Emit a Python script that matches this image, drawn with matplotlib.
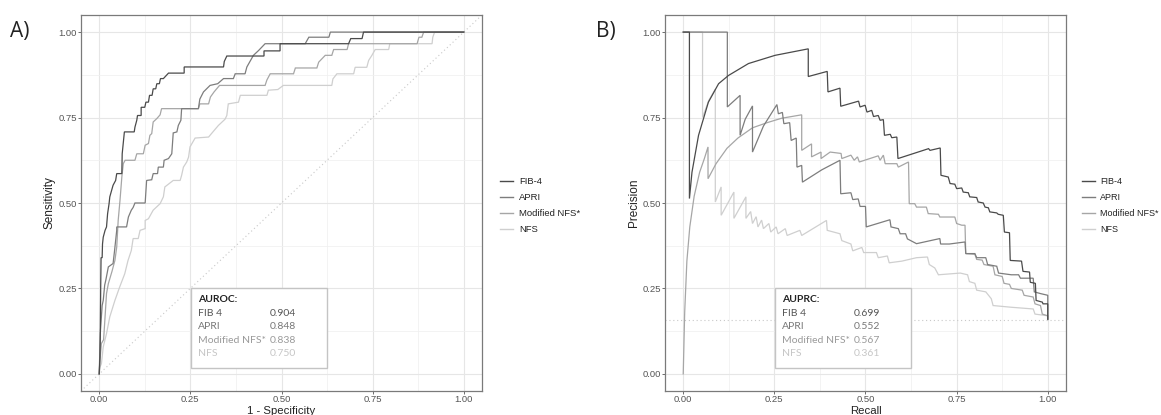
import matplotlib
matplotlib.use("Agg")
import matplotlib.pyplot as plt
from matplotlib.lines import Line2D
from matplotlib.patches import Rectangle

# ---------------- data ----------------
series_names = ["FIB-4", "APRI", "Modified NFS*", "NFS"]
box_names = ["FIB 4", "APRI", "Modified NFS*", "NFS"]
auroc = ["0.904", "0.848", "0.838", "0.750"]
auprc = ["0.699", "0.552", "0.567", "0.361"]
prevalence = 0.157

# ROC curves: (1 - specificity, sensitivity)
roc_fib4 = [(0, 0), (0.002, 0.05), (0.003, 0.12), (0.004, 0.25), (0.005, 0.34), (0.008, 0.34),
            (0.009, 0.38), (0.011, 0.40), (0.016, 0.42), (0.02, 0.43), (0.023, 0.469), (0.027, 0.498),
            (0.029, 0.518), (0.034, 0.537), (0.038, 0.552), (0.045, 0.566), (0.048, 0.586), (0.062, 0.586),
            (0.063, 0.644), (0.069, 0.708), (0.096, 0.708), (0.098, 0.722), (0.103, 0.742), (0.105, 0.756),
            (0.115, 0.756), (0.115, 0.78), (0.125, 0.78), (0.128, 0.795), (0.135, 0.795), (0.138, 0.815),
            (0.145, 0.815), (0.148, 0.834), (0.155, 0.834), (0.158, 0.849), (0.165, 0.849), (0.168, 0.864),
            (0.176, 0.864), (0.19, 0.88), (0.233, 0.88), (0.233, 0.898), (0.341, 0.898), (0.343, 0.914),
            (0.35, 0.93), (0.452, 0.93), (0.452, 0.945), (0.496, 0.945), (0.496, 0.966), (0.684, 0.966),
            (0.69, 0.981), (0.721, 0.981), (0.725, 1.0), (1.0, 1.0)]
roc_apri = [(0, 0), (0.003, 0.12), (0.008, 0.2), (0.011, 0.215), (0.015, 0.26), (0.018, 0.274),
            (0.025, 0.313), (0.038, 0.323), (0.042, 0.36), (0.048, 0.42), (0.048, 0.43), (0.075, 0.43),
            (0.080, 0.459), (0.088, 0.479), (0.093, 0.487), (0.098, 0.50), (0.126, 0.50), (0.130, 0.566),
            (0.144, 0.568), (0.148, 0.586), (0.160, 0.586), (0.162, 0.605), (0.176, 0.605), (0.178, 0.625),
            (0.190, 0.63), (0.199, 0.644), (0.203, 0.705), (0.213, 0.708), (0.217, 0.727), (0.224, 0.742),
            (0.226, 0.776), (0.272, 0.776), (0.276, 0.804), (0.286, 0.825), (0.304, 0.844), (0.325, 0.849),
            (0.341, 0.864), (0.368, 0.864), (0.373, 0.878), (0.40, 0.878), (0.405, 0.898), (0.423, 0.932),
            (0.437, 0.946), (0.455, 0.966), (0.565, 0.966), (0.575, 0.985), (0.63, 0.985), (0.634, 1.0),
            (1.0, 1.0)]
roc_mnfs = [(0, 0), (0.002, 0.04), (0.006, 0.089), (0.012, 0.1), (0.016, 0.167), (0.02, 0.235),
            (0.025, 0.264), (0.035, 0.3), (0.043, 0.332), (0.048, 0.371), (0.052, 0.449), (0.057, 0.508),
            (0.062, 0.576), (0.066, 0.615), (0.071, 0.625), (0.098, 0.625), (0.103, 0.644), (0.121, 0.644),
            (0.126, 0.669), (0.135, 0.674), (0.139, 0.698), (0.144, 0.703), (0.148, 0.737), (0.158, 0.747),
            (0.167, 0.758), (0.171, 0.776), (0.272, 0.776), (0.276, 0.79), (0.30, 0.79), (0.305, 0.81),
            (0.315, 0.825), (0.33, 0.844), (0.455, 0.844), (0.46, 0.86), (0.469, 0.878), (0.533, 0.878),
            (0.538, 0.895), (0.597, 0.895), (0.602, 0.912), (0.62, 0.932), (0.638, 0.932), (0.643, 0.949),
            (0.68, 0.949), (0.684, 0.966), (0.872, 0.966), (0.877, 0.985), (0.885, 0.985), (0.89, 1.0),
            (1.0, 1.0)]
roc_nfs = [(0, 0), (0.002, 0.02), (0.006, 0.03), (0.011, 0.079), (0.02, 0.118), (0.029, 0.167),
           (0.043, 0.215), (0.056, 0.254), (0.07, 0.293), (0.079, 0.332), (0.088, 0.361), (0.093, 0.396),
           (0.107, 0.396), (0.112, 0.42), (0.126, 0.425), (0.126, 0.449), (0.135, 0.454), (0.148, 0.479),
           (0.167, 0.498), (0.176, 0.518), (0.18, 0.547), (0.203, 0.566), (0.222, 0.566), (0.226, 0.581),
           (0.231, 0.605), (0.24, 0.62), (0.245, 0.634), (0.249, 0.664), (0.263, 0.690), (0.30, 0.693),
           (0.315, 0.712), (0.327, 0.727), (0.345, 0.745), (0.35, 0.756), (0.354, 0.79), (0.382, 0.795),
           (0.387, 0.815), (0.46, 0.815), (0.464, 0.83), (0.49, 0.832), (0.505, 0.844), (0.638, 0.844),
           (0.641, 0.863), (0.652, 0.878), (0.698, 0.878), (0.702, 0.897), (0.734, 0.897), (0.739, 0.917),
           (0.748, 0.932), (0.757, 0.949), (0.794, 0.949), (0.797, 0.966), (0.913, 0.966), (0.915, 0.985),
           (0.92, 1.0), (1.0, 1.0)]

# Precision-recall curves: (recall, precision)
pr_fib4 = [(0, 1), (0.017, 1), (0.017, 0.513), (0.024, 0.59), (0.042, 0.698), (0.069, 0.795),
           (0.097, 0.849), (0.124, 0.873), (0.179, 0.908), (0.252, 0.932), (0.343, 0.951), (0.343, 0.870),
           (0.395, 0.885), (0.397, 0.825), (0.430, 0.836), (0.432, 0.783), (0.481, 0.798), (0.485, 0.781),
           (0.499, 0.786), (0.504, 0.766), (0.517, 0.771), (0.522, 0.753), (0.535, 0.756), (0.540, 0.742),
           (0.549, 0.744), (0.552, 0.698), (0.568, 0.701), (0.572, 0.691), (0.586, 0.693), (0.589, 0.630),
           (0.673, 0.659), (0.677, 0.654), (0.705, 0.661), (0.707, 0.581), (0.727, 0.576), (0.732, 0.557),
           (0.745, 0.555), (0.750, 0.542), (0.764, 0.544), (0.768, 0.532), (0.782, 0.530), (0.786, 0.518),
           (0.805, 0.516), (0.809, 0.503), (0.823, 0.500), (0.828, 0.488), (0.837, 0.486), (0.841, 0.474),
           (0.860, 0.471), (0.864, 0.467), (0.878, 0.464), (0.881, 0.415), (0.895, 0.413), (0.897, 0.332),
           (0.928, 0.330), (0.932, 0.300), (0.950, 0.298), (0.952, 0.268), (0.966, 0.265), (0.968, 0.215),
           (0.985, 0.210), (0.987, 0.205), (1.0, 0.205), (1.0, 0.16)]
pr_apri = [(0, 1), (0.121, 1), (0.121, 0.781), (0.156, 0.815), (0.156, 0.698), (0.17, 0.745),
           (0.19, 0.784), (0.19, 0.649), (0.22, 0.725), (0.257, 0.788), (0.261, 0.761), (0.272, 0.765),
           (0.276, 0.732), (0.292, 0.735), (0.296, 0.683), (0.310, 0.69), (0.312, 0.605), (0.325, 0.61),
           (0.327, 0.561), (0.38, 0.597), (0.43, 0.625), (0.432, 0.527), (0.46, 0.53), (0.465, 0.51),
           (0.48, 0.512), (0.485, 0.49), (0.50, 0.49), (0.502, 0.43), (0.567, 0.451), (0.57, 0.43),
           (0.59, 0.425), (0.595, 0.41), (0.61, 0.41), (0.615, 0.395), (0.64, 0.381), (0.704, 0.396),
           (0.706, 0.38), (0.73, 0.38), (0.773, 0.386), (0.775, 0.352), (0.80, 0.352), (0.805, 0.34),
           (0.83, 0.34), (0.835, 0.32), (0.86, 0.315), (0.865, 0.295), (0.90, 0.29), (0.92, 0.29),
           (0.925, 0.28), (0.96, 0.28), (0.963, 0.24), (0.98, 0.235), (1.0, 0.23), (1.0, 0.16)]
pr_mnfs = [(0, 0), (0.004, 0.18), (0.01, 0.33), (0.018, 0.43), (0.03, 0.52), (0.045, 0.59),
           (0.058, 0.63), (0.068, 0.664), (0.068, 0.571), (0.09, 0.615), (0.12, 0.66), (0.15, 0.69),
           (0.19, 0.72), (0.23, 0.735), (0.27, 0.748), (0.325, 0.758), (0.325, 0.654), (0.352, 0.673),
           (0.352, 0.635), (0.378, 0.649), (0.378, 0.63), (0.403, 0.649), (0.433, 0.645), (0.435, 0.63),
           (0.46, 0.64), (0.469, 0.625), (0.478, 0.635), (0.483, 0.62), (0.535, 0.638), (0.54, 0.625),
           (0.549, 0.64), (0.554, 0.615), (0.586, 0.615), (0.59, 0.605), (0.618, 0.62), (0.62, 0.498),
           (0.635, 0.498), (0.64, 0.488), (0.667, 0.488), (0.672, 0.469), (0.70, 0.467), (0.704, 0.459),
           (0.745, 0.459), (0.75, 0.44), (0.764, 0.435), (0.773, 0.435), (0.775, 0.352), (0.80, 0.35),
           (0.805, 0.335), (0.82, 0.333), (0.825, 0.32), (0.85, 0.315), (0.855, 0.29), (0.875, 0.285),
           (0.88, 0.265), (0.895, 0.262), (0.90, 0.25), (0.93, 0.245), (0.935, 0.23), (0.96, 0.225),
           (0.965, 0.205), (0.98, 0.2), (0.985, 0.175), (1.0, 0.17), (1.0, 0.16)]
pr_nfs = [(0, 1), (0.053, 1), (0.053, 0.75), (0.07, 0.80), (0.088, 0.833), (0.088, 0.503),
          (0.104, 0.547), (0.104, 0.464), (0.139, 0.532), (0.139, 0.455), (0.172, 0.518), (0.172, 0.455),
          (0.185, 0.475), (0.19, 0.44), (0.2, 0.46), (0.205, 0.43), (0.215, 0.45), (0.22, 0.425),
          (0.235, 0.44), (0.24, 0.415), (0.255, 0.43), (0.26, 0.41), (0.28, 0.425), (0.285, 0.405),
          (0.32, 0.42), (0.325, 0.405), (0.393, 0.449), (0.395, 0.42), (0.43, 0.41), (0.435, 0.39),
          (0.46, 0.38), (0.465, 0.36), (0.49, 0.37), (0.495, 0.355), (0.53, 0.355), (0.535, 0.34),
          (0.56, 0.345), (0.565, 0.325), (0.60, 0.33), (0.64, 0.34), (0.67, 0.342), (0.675, 0.32),
          (0.69, 0.31), (0.70, 0.29), (0.76, 0.295), (0.78, 0.29), (0.785, 0.27), (0.80, 0.265),
          (0.805, 0.245), (0.83, 0.24), (0.845, 0.22), (0.85, 0.2), (0.90, 0.195), (0.96, 0.19),
          (0.965, 0.175), (1.0, 0.17), (1.0, 0.157)]

ticks = [0.0, 0.25, 0.5, 0.75, 1.0]
tick_labels = ["0.00", "0.25", "0.50", "0.75", "1.00"]

# ---------------- style ----------------
colors = ["#4a4a4a", "#7d7d7d", "#a6a6a6", "#cfcfcf"]
box_text_colors = ["#555555", "#777777", "#9a9a9a", "#c6c6c6"]
W, H = 1161, 415
fig = plt.figure(figsize=(W / 100, H / 100), dpi=100)
plt.rcParams["font.family"] = ["Liberation Sans", "DejaVu Sans"]


def fx(px):
    return px / W


def fy(py):
    return 1 - py / H


def setup_axes(left_px, xlabel, ylabel):
    ax = fig.add_axes([fx(left_px), fy(391), (482 - 81) / W, (391 - 15) / H])
    ax.set_xlim(-0.05, 1.05)
    ax.set_ylim(-0.05, 1.05)
    ax.set_xticks(ticks)
    ax.set_xticklabels(tick_labels)
    ax.set_yticks(ticks)
    ax.set_yticklabels(tick_labels)
    ax.set_xticks([0.125, 0.375, 0.625, 0.875], minor=True)
    ax.set_yticks([0.125, 0.375, 0.625, 0.875], minor=True)
    ax.grid(which="major", color="#e6e6e6", lw=0.8, zorder=0)
    ax.grid(which="minor", color="#f0f0f0", lw=0.55, zorder=0)
    ax.tick_params(which="major", length=2.0, width=0.6, color="#555555",
                   labelsize=6.8, labelcolor="#555555", pad=1.0)
    ax.tick_params(which="minor", length=0)
    for s in ax.spines.values():
        s.set_color("#7a7a7a")
        s.set_linewidth(0.9)
    ax.set_xlabel(xlabel, fontsize=8.2, color="#222222", va="bottom")
    ax.xaxis.set_label_coords(0.5, (391 - 415.5) / 376)
    ax.set_ylabel(ylabel, fontsize=8.5, color="#222222", va="center")
    ax.yaxis.set_label_coords((50 - 81) / 401, 0.5)
    ax.set_axisbelow(True)
    return ax


def draw_curves(ax, curves):
    for pts, c in reversed(list(zip(curves, colors))):
        xs = [p[0] for p in pts]
        ys = [p[1] for p in pts]
        ax.plot(xs, ys, color=c, lw=0.9, zorder=3, solid_joinstyle="miter")


def draw_box(ax, title, values):
    ax.add_patch(Rectangle((0.251, 0.016), 0.374, 0.234, facecolor="white",
                           edgecolor="#c4c4c4", lw=1.0, zorder=5))
    tf = ["Lato", "DejaVu Sans"]
    ax.text(0.272, 0.2175, title, fontsize=7.5, fontweight="bold", color="#222222",
            family=tf, va="center", ha="left", zorder=6)
    ys = [0.178, 0.139, 0.098, 0.061]
    for name, val, y, c in zip(box_names, values, ys, box_text_colors):
        ax.text(0.272, y, name, fontsize=7.5, color=c, family=tf, va="center", ha="left", zorder=6)
        ax.text(0.467, y, val, fontsize=7.5, color=c, family=tf, va="center", ha="left", zorder=6)


def draw_legend(x_line_px, x_text_px, size):
    ys = [181, 197, 213, 229]
    for name, c, y in zip(series_names, colors, ys):
        fig.add_artist(Line2D([fx(x_line_px), fx(x_line_px + 13)], [fy(y), fy(y)],
                              color=c, lw=1.0, transform=fig.transFigure))
        fig.text(fx(x_text_px), fy(y), name, fontsize=size, color="#222222",
                 va="center", ha="left")


# Panel A: ROC
axA = setup_axes(81, "1 - Specificity", "Sensitivity")
axA.axline((0, 0), (1, 1), color="#c8c8c8", lw=0.8, ls=(0, (1, 2.5)), zorder=2)
draw_curves(axA, [roc_fib4, roc_apri, roc_mnfs, roc_nfs])
draw_box(axA, "AUROC:", auroc)
draw_legend(500, 519, 6.8)
fig.text(fx(10), fy(31), "A)", fontsize=15, family=["Open Sans", "DejaVu Sans"],
         va="center", ha="left", color="#222222")

# Panel B: PR
axB = setup_axes(665, "Recall", "Precision")
axB.axhline(prevalence, color="#c8c8c8", lw=0.8, ls=(0, (1, 2.5)), zorder=2)
draw_curves(axB, [pr_fib4, pr_apri, pr_mnfs, pr_nfs])
draw_box(axB, "AUPRC:", auprc)
draw_legend(1082, 1100, 6.5)
fig.text(fx(596), fy(31), "B)", fontsize=15, family=["Open Sans", "DejaVu Sans"],
         va="center", ha="left", color="#222222")

fig.savefig("out.png", dpi=100)
